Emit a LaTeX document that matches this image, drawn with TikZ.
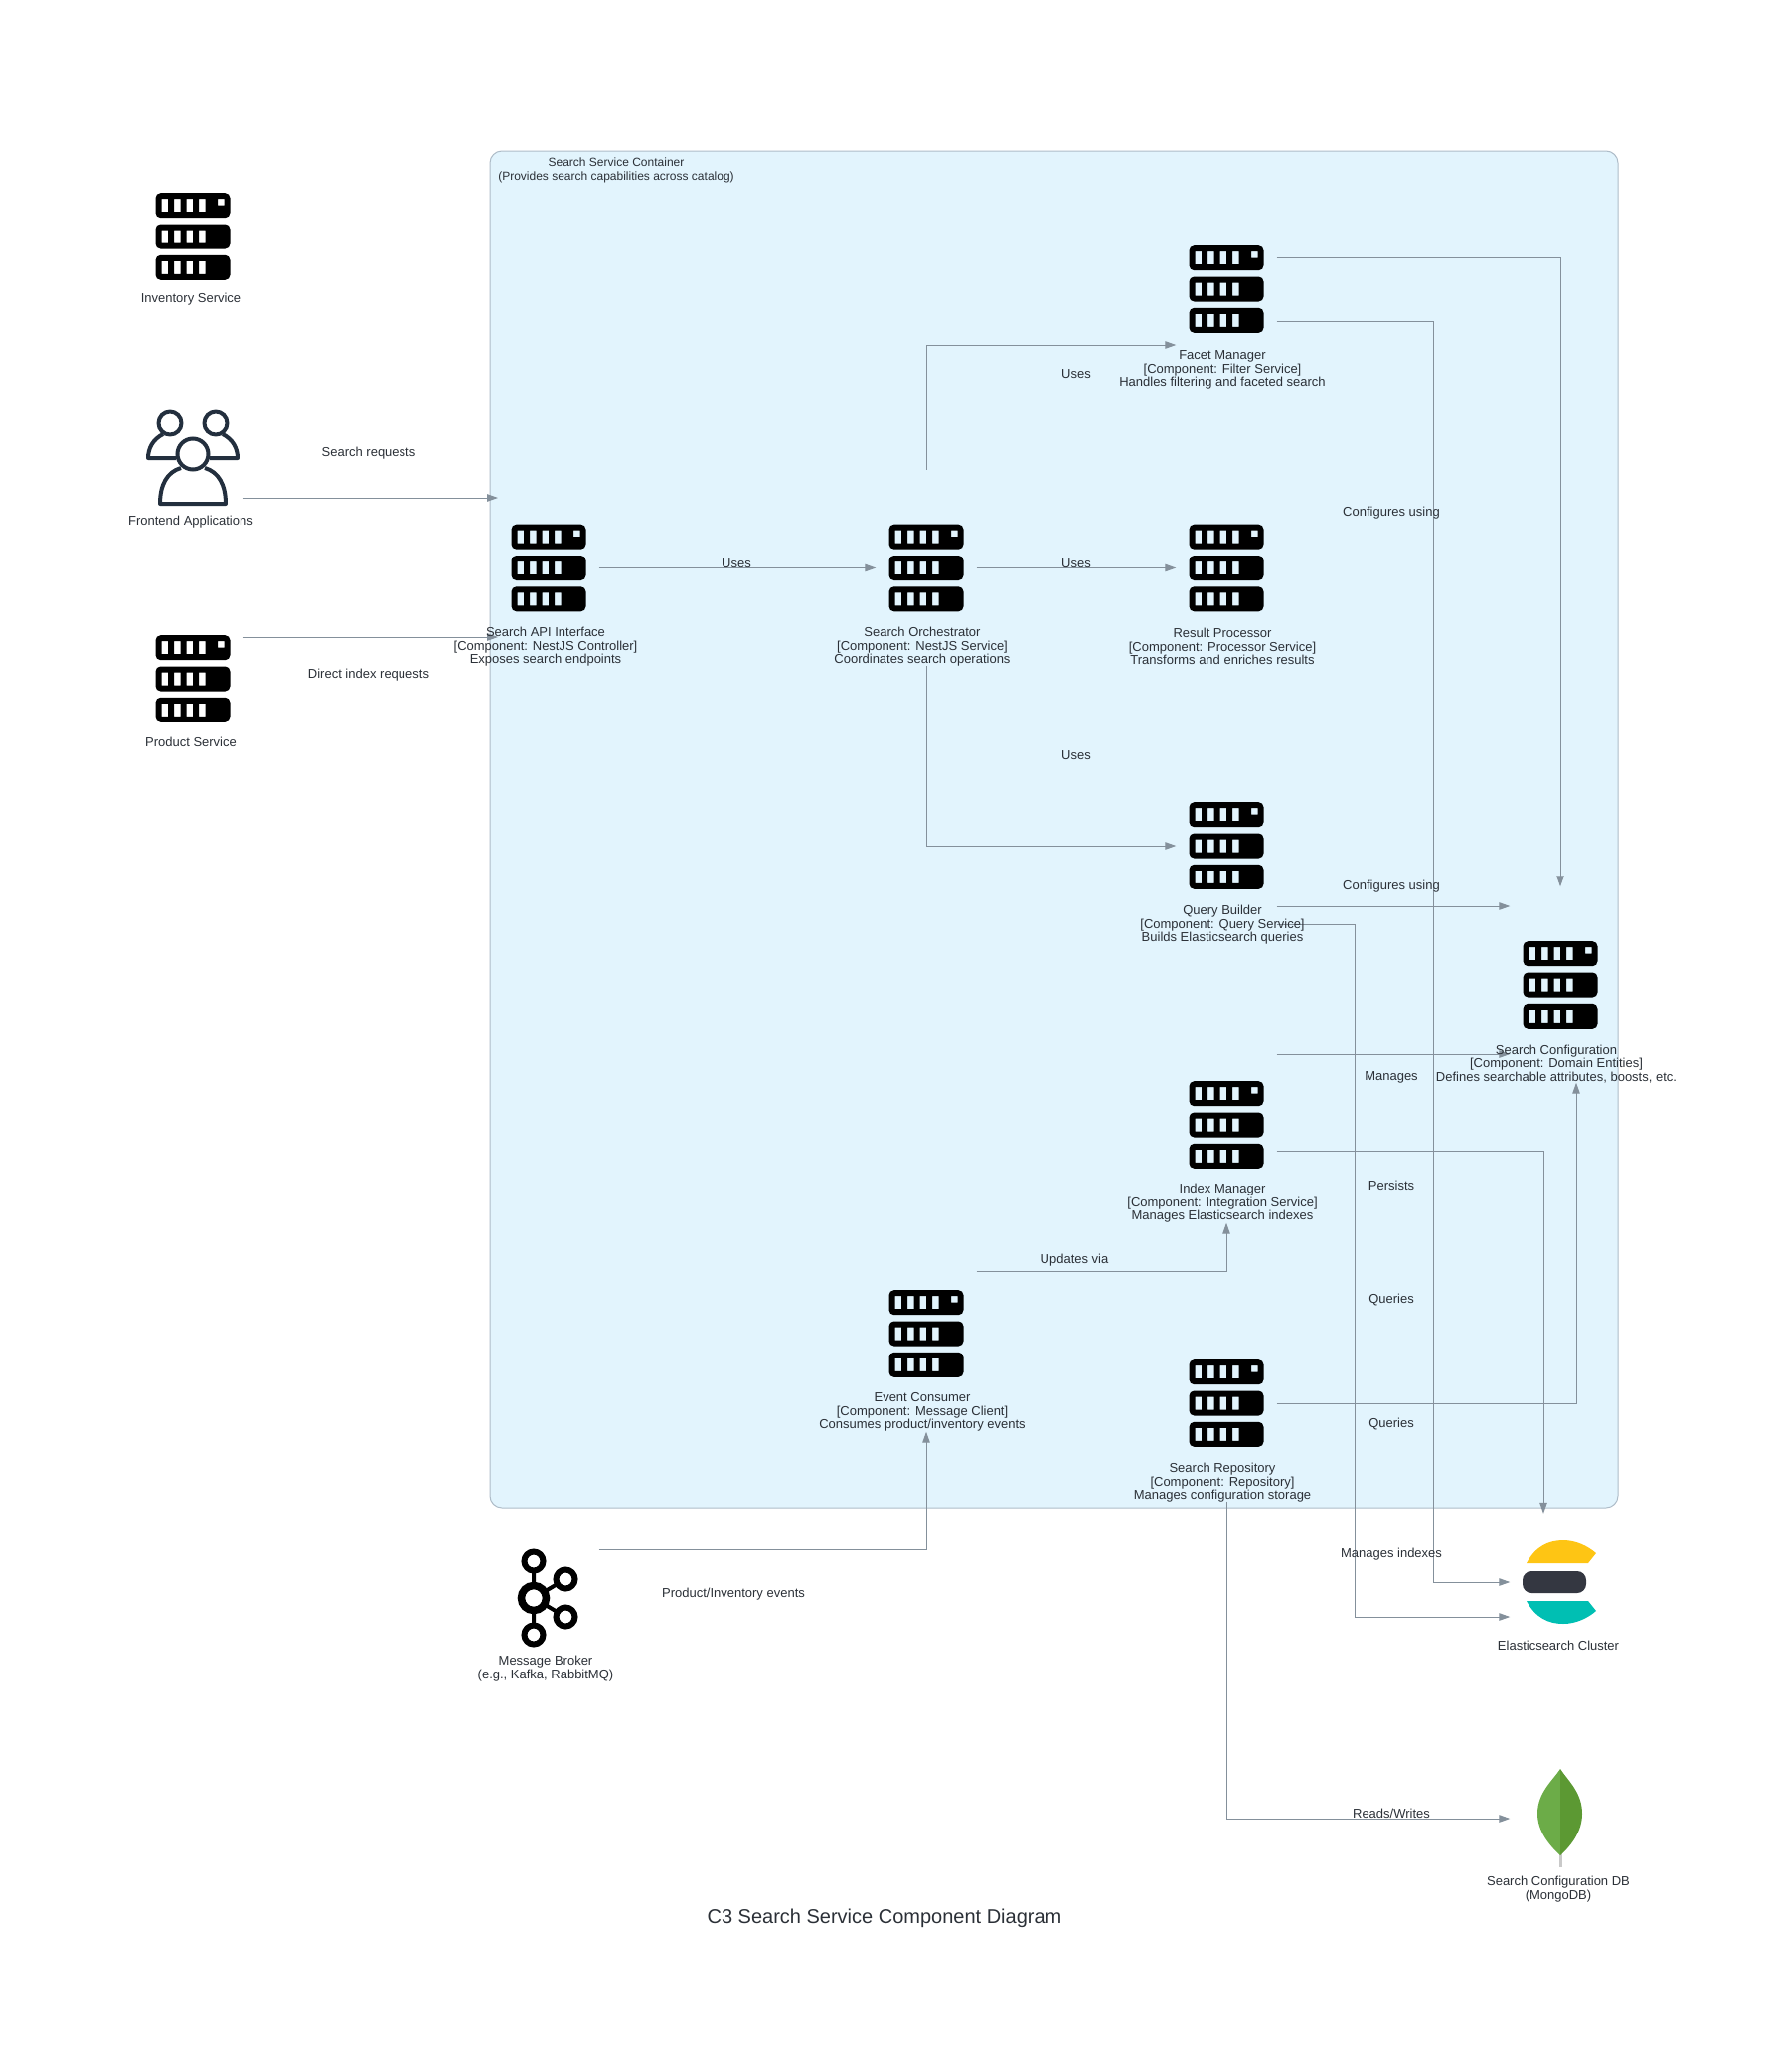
\documentclass[tikz,border=0pt]{standalone}
\usepackage{fontspec}
\setmainfont{Liberation Sans}
\usetikzlibrary{arrows.meta}
\definecolor{boxfill}{HTML}{E2F4FD}
\definecolor{boxedge}{HTML}{AEBCC8}
\definecolor{wire}{HTML}{84909B}
\definecolor{ink}{HTML}{2B3037}
\definecolor{usersink}{HTML}{232F3E}
\definecolor{elasticyellow}{HTML}{FEC514}
\definecolor{elasticdark}{HTML}{343741}
\definecolor{elasticteal}{HTML}{00BFB3}
\definecolor{leafleft}{HTML}{6CAC48}
\definecolor{leafright}{HTML}{5C9933}
\definecolor{leafstem}{HTML}{C9C9C9}
\tikzstyle{iconbox} = [rectangle, inner sep=0pt, minimum width=101pt, minimum height=197pt]
\tikzstyle{container} = [rectangle, draw=boxedge, fill=boxfill, line width=1pt, rounded corners=12pt,
    minimum width=1135pt, minimum height=1365pt]
\tikzstyle{line} = [draw=wire, line width=1pt, -{Triangle[length=11pt,width=7.5pt]}]
\tikzstyle{caption} = [text=ink, font=\fontsize{13}{13.6}\selectfont, align=center, inner sep=0pt]
\tikzstyle{edgetext} = [caption]
\newcommand{\srvbar}[1]{\fill[even odd rule, rounded corners=5pt, shift={(0,#1)}] (-37.5,-12.5) rectangle (37.5,12.5)
    [sharp corners] (-31.5,-6.5) rectangle (-25,6.5) (-19,-6.5) rectangle (-12.5,6.5)
    (-6.5,-6.5) rectangle (0,6.5) (6,-6.5) rectangle (12.5,6.5)}
\tikzset{
    servericon/.pic={
        \srvbar{-31.3} (25,-6.5) rectangle (31.5,0);
        \srvbar{0};
        \srvbar{31.3};
    },
    usersicon/.pic={
        \draw [usersink, line width=4pt, line join=round] (-23,-34) circle (11.5);
        \draw [usersink, line width=4pt, line join=round] (23,-34) circle (11.5);
        \draw [usersink, line width=4pt, line join=round] (-17,1) -- (-45,1) .. controls (-45,-9) and (-40,-18) .. (-30,-23);
        \draw [usersink, line width=4pt, line join=round] (17,1) -- (45,1) .. controls (45,-9) and (40,-18) .. (30,-23);
        \draw [usersink, line width=4pt, line join=round] (-12,11) .. controls (-26,15) and (-33,28) .. (-33,47) -- (33,47)
            .. controls (33,28) and (26,15) .. (12,11);
        \draw [usersink, fill=white, line width=4pt] (0,-3) circle (15.5);
    },
    brokericon/.pic={
        \draw [black, line width=4pt] (-15,-37) -- (-15,37) (-15,0) -- (17,-19) (-15,0) -- (17,19);
        \draw [black, fill=white, line width=7.5pt] (-15,0) circle (12.5);
        \draw [black, fill=white, line width=6pt] (-15,-37) circle (9.5);
        \draw [black, fill=white, line width=6pt] (-15,37) circle (9.5);
        \draw [black, fill=white, line width=6pt] (17,-19) circle (9.5);
        \draw [black, fill=white, line width=6pt] (17,19) circle (9.5);
    },
    elasticicon/.pic={
        \fill [elasticyellow] (-34,-33) .. controls (-25,-50) and (-12,-56) .. (3,-56)
            .. controls (16,-56) and (28,-50) .. (36,-43) -- (28,-33) -- cycle;
        \fill [elasticdark, rounded corners=9pt] (-38,-25) -- (26,-25) -- (26,-3) -- (-38,-3) -- cycle;
        \fill [elasticteal] (-34,5) .. controls (-25,22) and (-12,28) .. (3,28)
            .. controls (16,28) and (28,22) .. (36,15) -- (28,5) -- cycle;
    },
    mongoicon/.pic={
        \fill [leafstem] (-1.5,30) -- (1.5,30) -- (1.5,49) -- (-1.5,49) -- cycle;
        \fill [leafleft] (0,-50) .. controls (-8,-38) and (-23,-26) .. (-23,-5) .. controls (-23,12) and (-12,26) .. (0,37) -- cycle;
        \fill [leafright] (0,-50) .. controls (8,-38) and (22,-26) .. (22,-5) .. controls (22,12) and (12,26) .. (0,37) -- cycle;
    }
}
\begin{document}
\begin{tikzpicture}[x=1pt, y=-1pt]
    \useasboundingbox (0,0) rectangle (1780,2085);
    \node [container] at (1060.5,834.5) (service) {};
    \coordinate (frontin) at (501,501);
    \coordinate (productin) at (501,641);
    % icon boxes
    \node [iconbox] at (194,238) (inventory) {};
    \node [iconbox] at (194,460) (frontend) {};
    \node [iconbox] at (194,683) (product) {};
    \node [iconbox] at (552,571.5) (api) {};
    \node [iconbox] at (932,571.5) (orchestrator) {};
    \node [iconbox] at (1234,291) (facet) {};
    \node [iconbox] at (1234,571.5) (result) {};
    \node [iconbox] at (1234,851) (query) {};
    \node [iconbox] at (1570,991) (config) {};
    \node [iconbox] at (1234,1132) (index) {};
    \node [iconbox] at (932,1342) (consumer) {};
    \node [iconbox] at (1234,1412) (repository) {};
    \node [iconbox] at (552,1608) (broker) {};
    \node [iconbox, minimum height=166pt] at (1570,1606) (elastic) {};
    \node [iconbox] at (1570,1830) (mongo) {};
    % connectors
    \path [line] (frontend.east |- frontin) -- (frontin);
    \path [line] (product.east |- productin) -- (productin);
    \path [line] (api.east) -- (orchestrator.west);
    \path [line] (orchestrator.east) -- (result.west);
    \path [line] (orchestrator.north) |- (facet.west |- 0,347);
    \path [line] (orchestrator.south) |- (query.west);
    \path [line] ([yshift=32pt]facet.east) -| (config.north);
    \path [line] ([yshift=-32pt]facet.east) -- (1442,323) |- ([yshift=14pt]elastic.west);
    \path [line] ([yshift=-61pt]query.east) -- ([yshift=79pt]config.west);
    \path [line] ([yshift=-79pt]query.east) -- (1363,930) |- ([yshift=-21pt]elastic.west);
    \path [line] ([yshift=71pt]index.east) -- ([yshift=-70pt]config.west);
    \path [line] ([yshift=-26pt]index.east) -| ([xshift=-17pt]elastic.north);
    \path [line] ([yshift=63pt]consumer.east) -| (index.south);
    \path [line] (repository.east) -| ([xshift=16pt]config.south);
    \path [line] (repository.south) |- (mongo.west);
    \path [line] ([yshift=49pt]broker.east) -| (consumer.south);
    % icons
    \pic at (inventory) {servericon};
    \pic at (frontend) {usersicon};
    \pic at (product) {servericon};
    \pic at (api) {servericon};
    \pic at (orchestrator) {servericon};
    \pic at (facet) {servericon};
    \pic at (result) {servericon};
    \pic at (query) {servericon};
    \pic at (config) {servericon};
    \pic at (index) {servericon};
    \pic at (consumer) {servericon};
    \pic at (repository) {servericon};
    \pic at (broker) {brokericon};
    \pic at (elastic) {elasticicon};
    \pic at (mongo) {mongoicon};
    % captions
    \node [caption, font=\fontsize{12}{13.6}\selectfont] at (620,171.5) (servicetext) {Search Service Container\\(Provides search capabilities across catalog)};
    \node [caption] at (192,301.5) (inventorytext) {Inventory Service};
    \node [caption] at (192,525) (frontendtext) {Frontend Applications};
    \node [caption] at (192,747) (producttext) {Product Service};
    \node [caption] at (549,651) (apitext) {Search API Interface\\{[Component: NestJS Controller]}\\Exposes search endpoints};
    \node [caption] at (928,651) (orchestratortext) {Search Orchestrator\\{[Component: NestJS Service]}\\Coordinates search operations};
    \node [caption] at (1230,372) (facettext) {Facet Manager\\{[Component: Filter Service]}\\Handles filtering and faceted search};
    \node [caption] at (1230,650.5) (resulttext) {Result Processor\\{[Component: Processor Service]}\\Transforms and enriches results};
    \node [caption] at (1230,931) (querytext) {Query Builder\\{[Component: Query Service]}\\Builds Elasticsearch queries};
    \node [caption] at (1566,1071) (configtext) {Search Configuration\\{[Component: Domain Entities]}\\Defines searchable attributes, boosts, etc.};
    \node [caption] at (1230,1211) (indextext) {Index Manager\\{[Component: Integration Service]}\\Manages Elasticsearch indexes};
    \node [caption] at (928,1421) (consumertext) {Event Consumer\\{[Component: Message Client]}\\Consumes product/inventory events};
    \node [caption] at (1230,1492) (repositorytext) {Search Repository\\{[Component: Repository]}\\Manages configuration storage};
    \node [caption] at (549,1679) (brokertext) {Message Broker\\(e.g., Kafka, RabbitMQ)};
    \node [caption] at (1568,1656) (elastictext) {Elasticsearch Cluster};
    \node [caption] at (1568,1901) (mongotext) {Search Configuration DB\\(MongoDB)};
    % edge labels
    \node [edgetext] at (371,456) (requeststext) {Search requests};
    \node [edgetext] at (371,679) (directtext) {Direct index requests};
    \node [edgetext] at (741,567) (usesapi) {Uses};
    \node [edgetext] at (1083,567) (usesresult) {Uses};
    \node [edgetext] at (1083,376) (usesfacet) {Uses};
    \node [edgetext] at (1083,760) (usesquery) {Uses};
    \node [edgetext] at (1400,516) (confa) {Configures using};
    \node [edgetext] at (1400,892) (confb) {Configures using};
    \node [edgetext] at (1400,1084) (managestext) {Manages};
    \node [edgetext] at (1400,1193) (persiststext) {Persists};
    \node [edgetext] at (1400,1308) (queriesa) {Queries};
    \node [edgetext] at (1400,1433) (queriesb) {Queries};
    \node [edgetext] at (1081,1268) (updatestext) {Updates via};
    \node [edgetext] at (1400,1564) (indexestext) {Manages indexes};
    \node [edgetext] at (1400,1825) (readstext) {Reads/Writes};
    \node [edgetext] at (738,1604) (eventstext) {Product/Inventory events};
    \node [caption, font=\fontsize{20}{24}\selectfont] at (890,1930) (title) {C3 Search Service Component Diagram};
\end{tikzpicture}
\end{document}
